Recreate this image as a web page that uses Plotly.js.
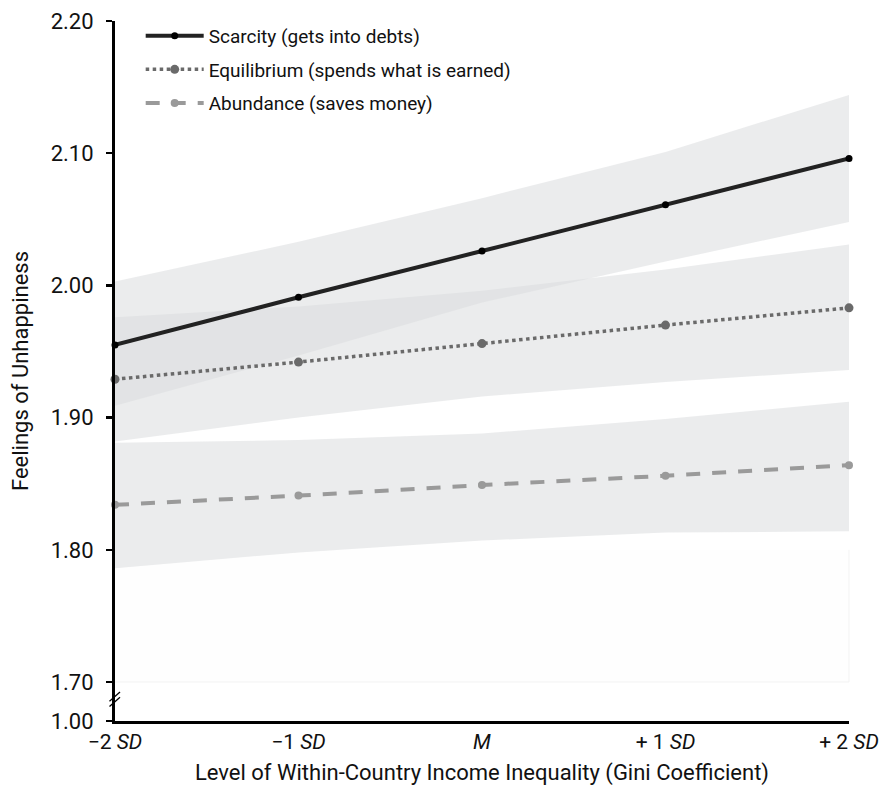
<!DOCTYPE html>
<html>
<head>
<meta charset="utf-8">
<script src="https://cdn.plot.ly/plotly-3.0.1.min.js"></script>
<style>html,body{margin:0;padding:0;background:#fff;}#chart{width:879px;height:793px;}</style>
</head>
<body>
<div id="chart"></div>
<script>
// ---- data ----
const categories = ["-2SD", "-1SD", "M", "+1SD", "+2SD"];
const categoryLabels = ["\u22122 <i>SD</i>", "\u22121 <i>SD</i>", "<i>M</i>", "+ 1 <i>SD</i>", "+ 2 <i>SD</i>"];

const scarcityMean  = [1.955, 1.991, 2.026, 2.061, 2.096];
const scarcityUpper = [2.003, 2.033, 2.066, 2.101, 2.144];
const scarcityLower = [1.909, 1.947, 1.987, 2.018, 2.048];

const equilibriumMean  = [1.929, 1.942, 1.956, 1.970, 1.983];
const equilibriumUpper = [1.976, 1.984, 1.996, 2.012, 2.031];
const equilibriumLower = [1.882, 1.900, 1.916, 1.927, 1.936];

const abundanceMean  = [1.834, 1.841, 1.849, 1.856, 1.864];
const abundanceUpper = [1.881, 1.883, 1.888, 1.899, 1.912];
const abundanceLower = [1.786, 1.798, 1.807, 1.813, 1.814];

const yTickValues = [1.70, 1.80, 1.90, 2.00, 2.10, 2.20];
const yTickLabels = ["1.70", "1.80", "1.90", "2.00", "2.10", "2.20"];
const yBreakValue = 1.6705;     // axis position standing for 1.00 (broken axis)
const yBreakLabel = "1.00";

const seriesNames = ["Scarcity (gets into debts)", "Equilibrium (spends what is earned)", "Abundance (saves money)"];

// ---- build ----
const FONT = '"Roboto", "Liberation Sans", sans-serif';
const bandFill = 'rgba(218,221,223,0.55)';

function band(upper, lower) {
  return {
    x: categories.concat(categories.slice().reverse()),
    y: upper.concat(lower.slice().reverse()),
    type: 'scatter', mode: 'lines', fill: 'toself', fillcolor: bandFill,
    line: {width: 0, color: 'rgba(0,0,0,0)'}, hoverinfo: 'skip', showlegend: false
  };
}

const traces = [
  band(abundanceUpper, abundanceLower),
  band(equilibriumUpper, equilibriumLower),
  band(scarcityUpper, scarcityLower),
  {
    x: categories, y: abundanceMean, name: seriesNames[2], legendgroup: 'c', legendrank: 3,
    type: 'scatter', mode: 'lines+markers', cliponaxis: false,
    line: {color: '#9a9a9a', width: 4, dash: '14px,12px'},
    marker: {color: '#9a9a9a', size: 8}
  },
  {
    x: categories, y: equilibriumMean, name: seriesNames[1], legendgroup: 'b', legendrank: 2,
    type: 'scatter', mode: 'lines+markers', cliponaxis: false,
    line: {color: '#6a6a6a', width: 3.5, dash: 'dot'},
    marker: {color: '#6a6a6a', size: 9}
  },
  {
    x: categories, y: scarcityMean, name: seriesNames[0], legendgroup: 'a', legendrank: 1,
    type: 'scatter', mode: 'lines+markers', cliponaxis: false,
    line: {color: '#222222', width: 4},
    marker: {color: '#000000', size: 7}
  }
];

const layout = {
  width: 879, height: 793,
  margin: {l: 115, r: 30, t: 21, b: 72},
  paper_bgcolor: '#fff', plot_bgcolor: 'rgba(0,0,0,0)',
  font: {family: FONT, size: 19, color: '#111'},
  showlegend: true,
  legend: {
    x: 0.035, y: 1.006, xanchor: 'left', yanchor: 'top',
    bgcolor: 'rgba(0,0,0,0)', font: {family: FONT, size: 19, color: '#111'},
    traceorder: 'grouped', tracegroupgap: 6, itemwidth: 58
  },
  xaxis: {
    type: 'category', categoryorder: 'array', categoryarray: categories,
    tickmode: 'array', tickvals: categories, ticktext: categoryLabels,
    range: [0, 4], showgrid: false, zeroline: false,
    showline: true, linecolor: '#000', linewidth: 3, ticks: '',
    tickfont: {family: FONT, size: 21, color: '#111'},
    ticklabelstandoff: 0,
    title: {text: 'Level of Within-Country Income Inequality (Gini Coefficient)', font: {family: FONT, size: 22, color: '#111'}, standoff: 12}
  },
  yaxis: {
    range: [yBreakValue, 2.20], showgrid: false, zeroline: false,
    tickmode: 'array', tickvals: [yBreakValue].concat(yTickValues), ticktext: [yBreakLabel].concat(yTickLabels),
    showline: true, linecolor: '#000', linewidth: 3, ticks: 'outside', ticklen: 6, tickwidth: 2.5, tickcolor: '#000',
    tickfont: {family: FONT, size: 22, color: '#111'},
    ticklabelstandoff: 8,
    title: {text: 'Feelings of Unhappiness', font: {family: FONT, size: 22, color: '#111'}, standoff: 16}
  },
  shapes: [
    {type: 'rect', layer: 'below', xref: 'paper', yref: 'y', x0: 0, x1: 1, y0: 1.70, y1: 1.80,
     fillcolor: '#fefefe', line: {width: 0}},
    {type: 'path', layer: 'below', xref: 'paper', yref: 'y', path: 'M 1 1.80 L 1 1.70 L 0 1.70',
     line: {color: '#f3f3f3', width: 1}},
    {type: 'line', xref: 'paper', yref: 'y', x0: -0.0075, x1: 0.0068, y0: 1.6815, y1: 1.6885, line: {color: '#000', width: 1.3}},
    {type: 'line', xref: 'paper', yref: 'y', x0: -0.0075, x1: 0.0068, y0: 1.6855, y1: 1.6925, line: {color: '#000', width: 1.3}}
  ]
};

Plotly.newPlot('chart', traces, layout, {displayModeBar: false, staticPlot: true});
</script>
</body>
</html>
